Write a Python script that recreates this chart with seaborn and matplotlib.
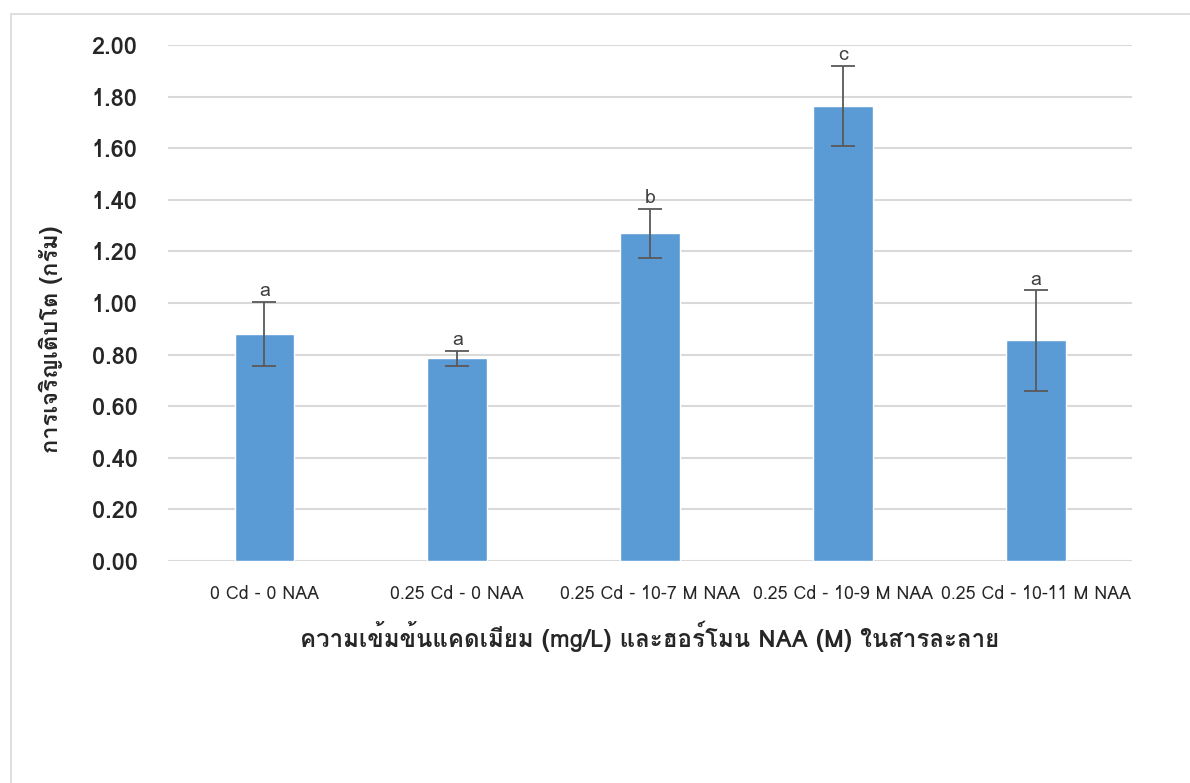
import numpy as np
import matplotlib
matplotlib.use("Agg")
import matplotlib.pyplot as plt
import seaborn as sns
import pandas as pd
from matplotlib import font_manager
from matplotlib.ft2font import FT2Font
from matplotlib.patches import Rectangle

# data
treatments = ["0 Cd - 0 NAA", "0.25 Cd - 0 NAA", "0.25 Cd - 10-7 M NAA",
              "0.25 Cd - 10-9 M NAA", "0.25 Cd - 10-11 M NAA"]
growth = [0.88, 0.785, 1.27, 1.765, 0.855]
err = [0.125, 0.03, 0.095, 0.155, 0.195]
letters = ["a", "a", "b", "c", "a"]
yticks = [0.0, 0.2, 0.4, 0.6, 0.8, 1.0, 1.2, 1.4, 1.6, 1.8, 2.0]

df = pd.DataFrame({"treatment": treatments, "growth": growth})

sns.set_theme(style="white")

# find some font that has thai glyphs
thai = None
for f in font_manager.fontManager.ttflist:
    try:
        if 0x0E01 in FT2Font(f.fname).get_charmap():
            thai = f.name
            break
    except Exception:
        pass
fams = [thai, "DejaVu Sans"] if thai else ["DejaVu Sans"]
plt.rcParams["font.family"] = fams

fig = plt.figure(figsize=(11.9, 7.83), dpi=100)
ax = fig.add_axes([0.1412, 0.2835, 0.8101, 0.659])

sns.barplot(data=df, x="treatment", y="growth", color="#5B9BD5",
            saturation=1, width=0.31, errorbar=None, ax=ax)
ax.errorbar(np.arange(len(growth)), growth, yerr=err, fmt="none",
            ecolor="#595959", elinewidth=1.3, capsize=8.5, capthick=1.3)

for i, (v, e, l) in enumerate(zip(growth, err, letters)):
    ax.text(i, v + e + 0.006, l, ha="center", va="bottom", fontsize=14,
            color="#404040")

ax.set_ylim(0, 2)
ax.set_xlim(-0.5, 4.5)
ax.set_yticks(yticks)
ax.set_yticklabels([f"{t:.2f}" for t in yticks], fontsize=17, fontweight="bold")
ax.tick_params(axis="x", labelsize=12.8, pad=17, length=0)
ax.tick_params(axis="y", length=0, pad=22)
ax.yaxis.grid(True, color="#d9d9d9", lw=1.5)
ax.set_axisbelow(True)
for s in ax.spines.values():
    s.set_visible(False)

ax.set_xlabel("ความเข้มข้นแคดเมียม (mg/L) และฮอร์โมน NAA (M) ในสารละลาย",
              fontsize=17.3, fontweight="bold")
ax.xaxis.set_label_coords(0.5, -0.116)
ax.set_ylabel("การเจริญเติบโต (กรัม)", fontsize=17, fontweight="bold")
ax.yaxis.set_label_coords(-0.109, 0.43)

# light frame around the chart area
fig.patches.append(Rectangle((11 / 1190, -0.1), 1.2, 1.1 - 14 / 783,
                             transform=fig.transFigure, fill=False,
                             edgecolor="#d9d9d9", lw=1.2))

fig.savefig("out.png", dpi=100)
